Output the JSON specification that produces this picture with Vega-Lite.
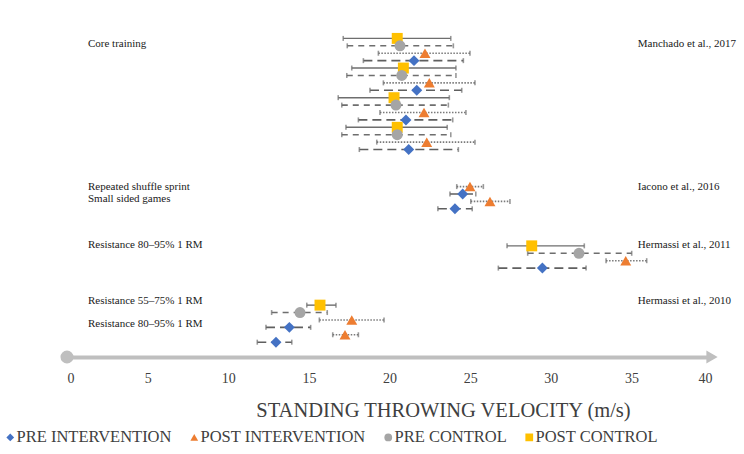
{
  "$schema": "https://vega.github.io/schema/vega-lite/v6.json",
  "width": 645,
  "height": 326,
  "autosize": "none",
  "padding": {"left": 67, "top": 31, "right": 32, "bottom": 97},
  "background": "white",
  "config": {
    "font": "Liberation Serif",
    "view": {"stroke": null},
    "legend": {"labelFont": "Liberation Serif", "labelFontSize": 16.5, "labelColor": "#404040", "symbolSize": 60, "columnPadding": 14, "labelOffset": -2, "labelLimit": 300}
  },
  "datasets": {
    "pts": [
      {"s": "Manchado et al., 2017", "g": "POST CONTROL", "r": 1, "m": 20.48, "lo": 17.13, "hi": 23.8},
      {"s": "Manchado et al., 2017", "g": "PRE CONTROL", "r": 2, "m": 20.65, "lo": 17.38, "hi": 23.96},
      {"s": "Manchado et al., 2017", "g": "POST INTERVENTION", "r": 3, "m": 22.2, "lo": 19.31, "hi": 24.99},
      {"s": "Manchado et al., 2017", "g": "PRE INTERVENTION", "r": 4, "m": 21.52, "lo": 18.38, "hi": 24.58},
      {"s": "Manchado et al., 2017", "g": "POST CONTROL", "r": 5, "m": 20.86, "lo": 17.66, "hi": 24.12},
      {"s": "Manchado et al., 2017", "g": "PRE CONTROL", "r": 6, "m": 20.76, "lo": 17.35, "hi": 24.12},
      {"s": "Manchado et al., 2017", "g": "POST INTERVENTION", "r": 7, "m": 22.47, "lo": 19.62, "hi": 25.3},
      {"s": "Manchado et al., 2017", "g": "PRE INTERVENTION", "r": 8, "m": 21.69, "lo": 18.79, "hi": 24.48},
      {"s": "Manchado et al., 2017", "g": "POST CONTROL", "r": 9, "m": 20.28, "lo": 16.82, "hi": 23.71},
      {"s": "Manchado et al., 2017", "g": "PRE CONTROL", "r": 10, "m": 20.4, "lo": 17.04, "hi": 23.65},
      {"s": "Manchado et al., 2017", "g": "POST INTERVENTION", "r": 11, "m": 22.14, "lo": 19.41, "hi": 24.74},
      {"s": "Manchado et al., 2017", "g": "PRE INTERVENTION", "r": 12, "m": 21.02, "lo": 18.07, "hi": 23.92},
      {"s": "Manchado et al., 2017", "g": "POST CONTROL", "r": 13, "m": 20.48, "lo": 17.3, "hi": 23.58},
      {"s": "Manchado et al., 2017", "g": "PRE CONTROL", "r": 14, "m": 20.48, "lo": 17.04, "hi": 23.8},
      {"s": "Manchado et al., 2017", "g": "POST INTERVENTION", "r": 15, "m": 22.31, "lo": 19.21, "hi": 25.3},
      {"s": "Manchado et al., 2017", "g": "PRE INTERVENTION", "r": 16, "m": 21.19, "lo": 18.13, "hi": 24.27},
      {"s": "Iacono et al., 2016", "g": "POST INTERVENTION", "r": 21, "m": 24.99, "lo": 24.17, "hi": 25.82},
      {"s": "Iacono et al., 2016", "g": "PRE INTERVENTION", "r": 22, "m": 24.54, "lo": 23.75, "hi": 25.35},
      {"s": "Iacono et al., 2016", "g": "POST INTERVENTION", "r": 23, "m": 26.23, "lo": 25.04, "hi": 27.47},
      {"s": "Iacono et al., 2016", "g": "PRE INTERVENTION", "r": 24, "m": 24.06, "lo": 23.0, "hi": 25.13},
      {"s": "Hermassi et al., 2011", "g": "POST CONTROL", "r": 29, "m": 28.82, "lo": 27.29, "hi": 32.08},
      {"s": "Hermassi et al., 2011", "g": "PRE CONTROL", "r": 30, "m": 31.75, "lo": 28.57, "hi": 35.02},
      {"s": "Hermassi et al., 2011", "g": "POST INTERVENTION", "r": 31, "m": 34.65, "lo": 33.43, "hi": 35.95},
      {"s": "Hermassi et al., 2011", "g": "PRE INTERVENTION", "r": 32, "m": 29.48, "lo": 26.75, "hi": 32.19},
      {"s": "Hermassi et al., 2010", "g": "POST CONTROL", "r": 37, "m": 15.69, "lo": 14.87, "hi": 16.68},
      {"s": "Hermassi et al., 2010", "g": "PRE CONTROL", "r": 38, "m": 14.45, "lo": 12.69, "hi": 16.14},
      {"s": "Hermassi et al., 2010", "g": "POST INTERVENTION", "r": 39, "m": 17.66, "lo": 15.65, "hi": 19.66},
      {"s": "Hermassi et al., 2010", "g": "PRE INTERVENTION", "r": 40, "m": 13.79, "lo": 12.34, "hi": 15.11},
      {"s": "Hermassi et al., 2010", "g": "POST INTERVENTION", "r": 41, "m": 17.24, "lo": 16.48, "hi": 18.07},
      {"s": "Hermassi et al., 2010", "g": "PRE INTERVENTION", "r": 42, "m": 12.96, "lo": 11.8, "hi": 13.94}
    ],
    "labels": [
      {"t": "Core training", "x": 1.3, "r": 1.8},
      {"t": "Repeated shuffle sprint", "x": 1.3, "r": 21},
      {"t": "Small sided games", "x": 1.3, "r": 22.7},
      {"t": "Resistance 80–95% 1 RM", "x": 1.3, "r": 28.9},
      {"t": "Resistance 55–75% 1 RM", "x": 1.3, "r": 36.5},
      {"t": "Resistance 80–95% 1 RM", "x": 1.3, "r": 39.5},
      {"t": "Manchado et al., 2017", "x": 35.4, "r": 1.8},
      {"t": "Iacono et al., 2016", "x": 35.4, "r": 21},
      {"t": "Hermassi et al., 2011", "x": 35.4, "r": 28.9},
      {"t": "Hermassi et al., 2010", "x": 35.4, "r": 36.5}
    ],
    "axisStart": [{"x": 0, "r": 44}],
    "axisEnd": [{"x": 40, "r": 44}]
  },
  "layer": [
    {
      "data": {"name": "pts"},
      "transform": [{"filter": "datum.g === 'PRE INTERVENTION'"}],
      "mark": {"type": "rule", "color": "#5f5f5f", "strokeWidth": 1.6, "strokeDash": [9, 5]},
      "encoding": {
        "x": {"field": "lo", "type": "quantitative", "scale": {"domain": [0, 40], "nice": false},
          "axis": {"values": [0, 5, 10, 15, 20, 25, 30, 35, 40], "domainColor": "#bfbfbf", "domainWidth": 4, "ticks": false, "grid": false,
            "labelFont": "Liberation Serif", "labelFontSize": 14, "labelColor": "#404040", "labelPadding": 14,
            "title": "STANDING THROWING VELOCITY (m/s)", "titleFont": "Liberation Serif", "titleFontSize": 20.5, "titleFontWeight": "normal", "titleColor": "#404040", "titlePadding": 15, "titleX": 376, "titleAlign": "center", "titleAnchor": "start"}},
        "x2": {"field": "hi"},
        "y": {"field": "r", "type": "quantitative", "scale": {"domain": [0, 44], "reverse": true, "nice": false}, "axis": null}
      }
    },
    {
      "data": {"name": "pts"},
      "transform": [{"filter": "datum.g === 'POST INTERVENTION'"}],
      "mark": {"type": "rule", "color": "#7a7a7a", "strokeWidth": 1.6, "strokeDash": [1.5, 1.5]},
      "encoding": {
        "x": {"field": "lo", "type": "quantitative"},
        "x2": {"field": "hi"},
        "y": {"field": "r", "type": "quantitative"}
      }
    },
    {
      "data": {"name": "pts"},
      "transform": [{"filter": "datum.g === 'PRE CONTROL'"}],
      "mark": {"type": "rule", "color": "#6e6e6e", "strokeWidth": 1.6, "strokeDash": [6, 5]},
      "encoding": {
        "x": {"field": "lo", "type": "quantitative"},
        "x2": {"field": "hi"},
        "y": {"field": "r", "type": "quantitative"}
      }
    },
    {
      "data": {"name": "pts"},
      "transform": [{"filter": "datum.g === 'POST CONTROL'"}],
      "mark": {"type": "rule", "color": "#6e6e6e", "strokeWidth": 1.4},
      "encoding": {
        "x": {"field": "lo", "type": "quantitative"},
        "x2": {"field": "hi"},
        "y": {"field": "r", "type": "quantitative"}
      }
    },
    {
      "data": {"name": "pts"},
      "mark": {"type": "tick", "orient": "vertical", "color": "#6e6e6e", "thickness": 1.6, "size": 5},
      "encoding": {
        "x": {"field": "lo", "type": "quantitative"},
        "y": {"field": "r", "type": "quantitative"}
      }
    },
    {
      "data": {"name": "pts"},
      "mark": {"type": "tick", "orient": "vertical", "color": "#6e6e6e", "thickness": 1.6, "size": 5},
      "encoding": {
        "x": {"field": "hi", "type": "quantitative"},
        "y": {"field": "r", "type": "quantitative"}
      }
    },
    {
      "data": {"name": "pts"},
      "mark": {"type": "point", "filled": true, "opacity": 1, "size": 120},
      "encoding": {
        "x": {"field": "m", "type": "quantitative"},
        "y": {"field": "r", "type": "quantitative"},
        "color": {"field": "g", "type": "nominal",
          "scale": {"domain": ["PRE INTERVENTION", "POST INTERVENTION", "PRE CONTROL", "POST CONTROL"], "range": ["#4472C4", "#ED7D31", "#A5A5A5", "#FFC000"]},
          "legend": {"orient": "none", "legendX": -65, "legendY": 398, "direction": "horizontal", "title": null, "labelFont": "Liberation Serif",
            "encode": {"labels": {"update": {"font": {"value": "Liberation Serif"}, "fontSize": {"value": 16.5}}}}}},
        "shape": {"field": "g", "type": "nominal",
          "scale": {"domain": ["PRE INTERVENTION", "POST INTERVENTION", "PRE CONTROL", "POST CONTROL"], "range": ["diamond", "triangle-up", "circle", "square"]},
          "legend": {"orient": "none", "legendX": -65, "legendY": 398, "direction": "horizontal", "title": null, "labelFont": "Liberation Serif",
            "encode": {"labels": {"update": {"font": {"value": "Liberation Serif"}, "fontSize": {"value": 16.5}}}}}}
      }
    },
    {
      "data": {"name": "labels"},
      "mark": {"type": "text", "align": "left", "baseline": "middle", "font": "Liberation Serif", "fontSize": 11, "color": "#1a1a1a"},
      "encoding": {
        "x": {"field": "x", "type": "quantitative"},
        "y": {"field": "r", "type": "quantitative"},
        "text": {"field": "t"}
      }
    },
    {
      "data": {"name": "axisStart"},
      "mark": {"type": "point", "shape": "circle", "filled": true, "opacity": 1, "color": "#bfbfbf", "size": 170},
      "encoding": {
        "x": {"field": "x", "type": "quantitative"},
        "y": {"field": "r", "type": "quantitative"}
      }
    },
    {
      "data": {"name": "axisEnd"},
      "mark": {"type": "point", "shape": "triangle-right", "filled": true, "opacity": 1, "color": "#bfbfbf", "size": 170},
      "encoding": {
        "x": {"field": "x", "type": "quantitative"},
        "y": {"field": "r", "type": "quantitative"}
      }
    }
  ]
}
